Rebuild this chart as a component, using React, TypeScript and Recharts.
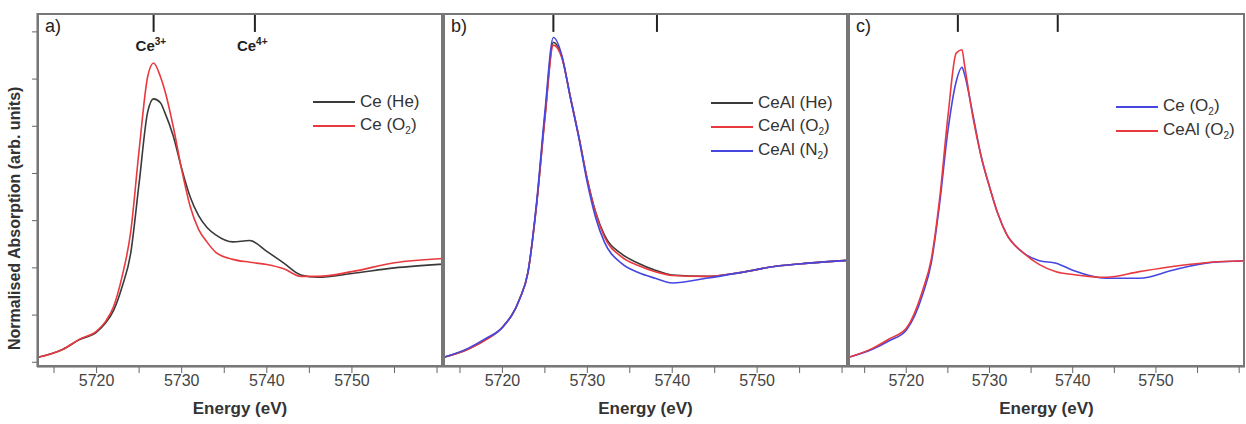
import React from 'react'
import { LineChart, Line, XAxis, YAxis, ReferenceLine } from 'recharts'

// energies (eV) and normalised absorption
const energyA = [5713, 5716, 5718, 5720, 5721, 5722, 5723, 5724, 5725, 5726, 5726.7, 5727.5, 5728, 5729, 5730, 5731, 5732, 5733, 5734, 5736, 5738, 5740, 5742, 5744, 5746, 5750, 5755, 5760.7]
const ceHe = [0.1, 0.27, 0.48, 0.64, 0.82, 1.1, 1.6, 2.3, 3.8, 5.3, 5.58, 5.5, 5.3, 4.8, 4.1, 3.5, 3.1, 2.85, 2.7, 2.55, 2.58, 2.35, 2.1, 1.85, 1.8, 1.88, 2.0, 2.08]
const ceO2 = [0.1, 0.27, 0.49, 0.66, 0.85, 1.18, 1.82, 2.75, 4.5, 6.05, 6.34, 6.05, 5.77, 5.0, 4.08, 3.3, 2.81, 2.54, 2.33, 2.18, 2.12, 2.07, 1.98, 1.82, 1.82, 1.92, 2.11, 2.2]

const energyB = [5713, 5716, 5718, 5720, 5722, 5723, 5724, 5725, 5726, 5727, 5728, 5729, 5730, 5731, 5732, 5734, 5736, 5738, 5740, 5744, 5748, 5752, 5756, 5760.7]
const ceAlHe = [0.1, 0.28, 0.48, 0.74, 1.33, 1.9, 3.3, 5.2, 6.78, 6.47, 5.62, 4.78, 3.87, 3.17, 2.7, 2.3, 2.1, 1.95, 1.85, 1.82, 1.9, 2.03, 2.1, 2.16]
const ceAlO2 = [0.1, 0.28, 0.47, 0.74, 1.33, 1.9, 3.3, 5.15, 6.72, 6.45, 5.62, 4.78, 3.87, 3.15, 2.66, 2.24, 2.05, 1.92, 1.84, 1.82, 1.9, 2.03, 2.1, 2.16]
const ceAlN2 = [0.1, 0.3, 0.5, 0.74, 1.33, 1.9, 3.35, 5.3, 6.88, 6.5, 5.6, 4.75, 3.8, 3.05, 2.55, 2.1, 1.9, 1.78, 1.68, 1.78, 1.9, 2.03, 2.1, 2.16]

const energyC = [5713, 5716, 5718, 5720, 5722, 5723, 5724, 5725, 5726, 5726.7, 5727, 5728, 5729, 5730, 5731, 5732, 5734, 5736, 5738, 5740, 5744, 5748, 5752, 5756, 5760.7]
const cO2Ce = [0.1, 0.28, 0.46, 0.68, 1.45, 2.1, 3.35, 4.9, 5.95, 6.25, 6.1, 5.25, 4.36, 3.72, 3.15, 2.73, 2.33, 2.15, 2.1, 1.95, 1.78, 1.78, 1.95, 2.1, 2.15]
const cO2CeAl = [0.1, 0.3, 0.5, 0.72, 1.54, 2.18, 3.45, 5.2, 6.55, 6.62, 6.3, 5.2, 4.36, 3.72, 3.15, 2.73, 2.33, 2.07, 1.92, 1.86, 1.8, 1.92, 2.03, 2.11, 2.15]

const xTicks = [5715, 5720, 5725, 5730, 5735, 5740, 5745, 5750, 5755, 5760]
const xLabels = [5720, 5730, 5740, 5750]
const yTicks = [0, 1, 2, 3, 4, 5, 6, 7]
const X_DOMAIN = [5713, 5760.7]
const Y_DOMAIN = [-0.1, 7.4]

const BLACK = '#3a3a3a'
const RED = '#e8393f'
const BLUE = '#4646e0'
const FONT = 'Arial, "Liberation Sans", sans-serif'

const pts = (xs: number[], ys: number[]) => xs.map((x, i) => ({ x, y: ys[i] }))

type Series = { name: React.ReactNode; color: string; data: { x: number; y: number }[] }

function Panel({ left, width, series, markers, showY, letter, legendTop, legendLeft, showLabels }: {
  left: number; width: number; series: Series[]; markers: number[]; showY: boolean; letter: string
  legendTop: number; legendLeft: number; showLabels?: boolean
}) {
  const plotLeft = showY ? 37 : 0
  const plotW = width - plotLeft
  const sx = (v: number) => plotLeft + ((v - X_DOMAIN[0]) / (X_DOMAIN[1] - X_DOMAIN[0])) * plotW
  return (
    <div style={{ position: 'absolute', left, top: 0, width, height: 424 }}>
      <LineChart width={width} height={424} margin={{ top: 13, right: 0, bottom: 17, left: 0 }}>
        <XAxis type="number" dataKey="x" domain={X_DOMAIN} ticks={xTicks} allowDataOverflow
          tickFormatter={(v) => (xLabels.includes(v) ? String(v) : '')} tickSize={6} height={40}
          tick={{ fontSize: 16, fill: '#444', fontFamily: FONT }} stroke="#666"
          label={{ value: 'Energy (eV)', position: 'insideBottom', offset: -7, fontSize: 17, fontWeight: 700, fill: '#333', fontFamily: FONT }} />
        <YAxis type="number" dataKey="y" domain={Y_DOMAIN} ticks={yTicks} allowDataOverflow hide={!showY}
          width={37} tickFormatter={() => ''} tickSize={5} stroke="#666"
          label={{ value: 'Normalised Absorption (arb. units)', angle: -90, position: 'insideLeft', offset: 14, dy: 160, fontSize: 16, fontWeight: 700, fill: '#333', fontFamily: FONT }} />
        {markers.map((m) => (
          <ReferenceLine key={m} segment={[{ x: m, y: 7.4 }, { x: m, y: 7.0 }]} stroke="#222" strokeWidth={2} />
        ))}
        {series.map((s, i) => (
          <Line key={i} data={s.data} dataKey="y" type="monotone" stroke={s.color} strokeWidth={1.6} dot={false} isAnimationActive={false} />
        ))}
      </LineChart>
      <div style={{ position: 'absolute', left: plotLeft, top: 13, width: plotW, height: 354, border: '2px solid #777', boxSizing: 'border-box', pointerEvents: 'none' }} />
      <div style={{ position: 'absolute', left: plotLeft + 8, top: 16, fontSize: 18, fontFamily: FONT, color: '#222' }}>{letter}</div>
      {showLabels && (
        <>
          <div style={{ position: 'absolute', left: sx(markers[0]) - 18, top: 36, fontSize: 15, fontWeight: 700, fontFamily: FONT, color: '#222' }}>Ce<sup style={{ fontSize: 10 }}>3+</sup></div>
          <div style={{ position: 'absolute', left: sx(markers[1]) - 18, top: 36, fontSize: 15, fontWeight: 700, fontFamily: FONT, color: '#222' }}>Ce<sup style={{ fontSize: 10 }}>4+</sup></div>
        </>
      )}
      <div style={{ position: 'absolute', left: legendLeft, top: legendTop, fontFamily: FONT, fontSize: 17, color: '#333' }}>
        {series.map((s, i) => (
          <div key={i} style={{ display: 'flex', alignItems: 'center', height: 24 }}>
            <span style={{ display: 'inline-block', width: 42, height: 2, background: s.color, marginRight: 5 }} />
            <span>{s.name}</span>
          </div>
        ))}
      </div>
    </div>
  )
}

const sub = (a: string, b: string) => <>{a} (O<sub style={{ fontSize: 10 }}>{b}</sub>)</>

export default function App() {
  return (
    <div style={{ position: 'absolute', left: 0, top: 0, width: 1246, height: 424, background: '#fff' }}>
      <Panel left={0} width={443} showY letter="a)" markers={[5726.7, 5738.6]} showLabels legendTop={90} legendLeft={313}
        series={[
          { name: 'Ce (He)', color: BLACK, data: pts(energyA, ceHe) },
          { name: sub('Ce', '2'), color: RED, data: pts(energyA, ceO2) },
        ]} />
      <Panel left={443} width={405} showY={false} letter="b)" markers={[5726, 5738.2]} legendTop={91} legendLeft={268}
        series={[
          { name: 'CeAl (He)', color: BLACK, data: pts(energyB, ceAlHe) },
          { name: sub('CeAl', '2'), color: RED, data: pts(energyB, ceAlO2) },
          { name: <>CeAl (N<sub style={{ fontSize: 10 }}>2</sub>)</>, color: BLUE, data: pts(energyB, ceAlN2) },
        ]} />
      <Panel left={848} width={397} showY={false} letter="c)" markers={[5726.2, 5738.2]} legendTop={95} legendLeft={268}
        series={[
          { name: sub('Ce', '2'), color: BLUE, data: pts(energyC, cO2Ce) },
          { name: sub('CeAl', '2'), color: RED, data: pts(energyC, cO2CeAl) },
        ]} />
    </div>
  )
}
